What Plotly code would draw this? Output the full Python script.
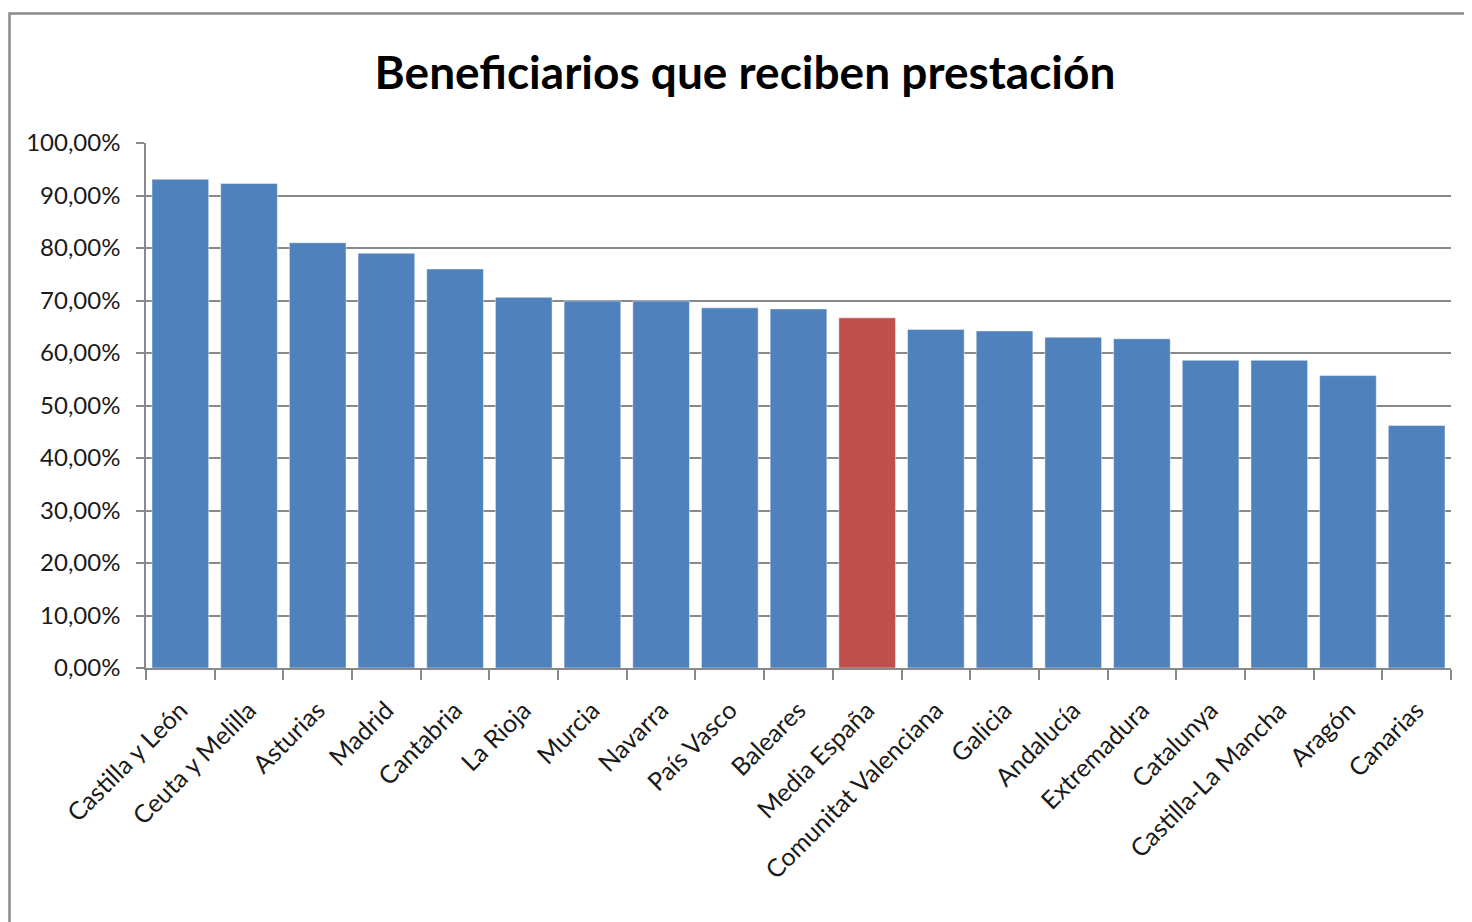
import plotly.graph_objects as go

regiones = ['Castilla y León', 'Ceuta y Melilla', 'Asturias', 'Madrid', 'Cantabria',
            'La Rioja', 'Murcia', 'Navarra', 'País Vasco', 'Baleares', 'Media España',
            'Comunitat Valenciana', 'Galicia', 'Andalucía', 'Extremadura', 'Catalunya',
            'Castilla-La Mancha', 'Aragón', 'Canarias']
porcentaje = [0.931, 0.923, 0.810, 0.790, 0.760, 0.706, 0.699, 0.699, 0.686, 0.684,
              0.667, 0.645, 0.642, 0.630, 0.627, 0.586, 0.586, 0.557, 0.462]
destacado = 'Media España'

AZUL = '#4F81BD'
ROJO = '#C0504D'
GRIS = '#898989'
FUENTE = 'Lato'

colores = [ROJO if r == destacado else AZUL for r in regiones]

fig = go.Figure()
fig.add_trace(go.Bar(
    x=regiones,
    y=porcentaje,
    marker=dict(color=colores, line=dict(color='rgba(255,255,255,0.45)', width=1)),
    hovertemplate='%{x}: %{y:.2%}<extra></extra>',
))

# the page puts the figure 8px in from the top-left corner
W, H = 1464, 914
ml, mr, mt, mb = 138, 21, 135, 254
pw, ph = W - ml - mr, H - mt - mb

# outer chart frame (clipped at the right/bottom like the original screenshot)
fig.add_shape(
    type='rect', xref='paper', yref='paper',
    x0=(1.5 - ml) / pw, x1=(W + 20 - ml) / pw,
    y0=-(mb + 20) / ph, y1=(H - mb - 5.5) / ph,
    line=dict(color=GRIS, width=2.5), fillcolor='rgba(0,0,0,0)', layer='below',
)

fig.update_layout(
    width=W, height=H,
    margin=dict(l=ml, r=mr, t=mt, b=mb),
    paper_bgcolor='white', plot_bgcolor='white',
    separators=',.',
    showlegend=False,
    bargap=0.175,
    font=dict(family=FUENTE, color='#1a1a1a'),
    title=dict(
        text='Beneficiarios que reciben prestación',
        x=737 / W, xanchor='center', xref='container',
        y=1 - 65 / H, yanchor='middle', yref='container',
        font=dict(family=FUENTE, size=46, color='#000000', weight='bold'),
    ),
    xaxis=dict(
        type='category',
        tickangle=-45,
        tickfont=dict(size=25, color='#1a1a1a'),
        showline=True, linecolor=GRIS, linewidth=1.5,
        ticks='outside', tickson='boundaries', ticklen=10, tickcolor=GRIS, tickwidth=1.5,
        showgrid=False,
        ticklabelstandoff=16,
    ),
    yaxis=dict(
        range=[0, 1], dtick=0.1, tickformat='.2%',
        tickfont=dict(size=24, color='#1a1a1a'),
        showline=True, linecolor=GRIS, linewidth=1.5,
        ticks='outside', ticklen=8, tickcolor=GRIS, tickwidth=1.5,
        showgrid=True, gridcolor=GRIS, gridwidth=1.5,
        zeroline=False,
        ticklabelstandoff=11,
    ),
)

fig.write_html('out.html')
